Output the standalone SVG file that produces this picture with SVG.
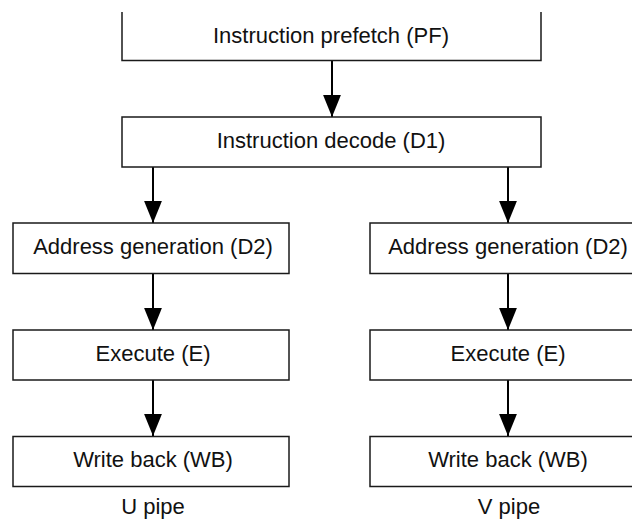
<svg xmlns="http://www.w3.org/2000/svg" width="632" height="523" viewBox="0 0 632 523">
<style>
.box{fill:#fff;stroke:#1a1a1a;stroke-width:1.5}
.t{font-family:"Liberation Sans",Arial,sans-serif;font-size:22px;fill:#111;text-anchor:middle}
.c{stroke:#000;stroke-width:2;fill:none;marker-end:url(#ah)}
</style>
<defs>
<marker id="ah" markerUnits="userSpaceOnUse" markerWidth="22" markerHeight="18" viewBox="0 0 21 17" refX="21" refY="8.5" orient="auto">
<path d="M0,0 L21,8.5 L0,17 z" fill="#000"/>
</marker>
</defs>
<rect width="632" height="523" fill="#fff"/>
<g id="connectors">
<line class="c" x1="332" y1="61" x2="332" y2="117"/>
<line class="c" x1="153" y1="167" x2="153" y2="223"/>
<line class="c" x1="508" y1="167" x2="508" y2="223"/>
<line class="c" x1="153" y1="274" x2="153" y2="330"/>
<line class="c" x1="508" y1="274" x2="508" y2="330"/>
<line class="c" x1="153" y1="380" x2="153" y2="436"/>
<line class="c" x1="508" y1="380" x2="508" y2="436"/>
</g>
<g id="pf">
<path class="box" d="M122,12 V60.5 H541 V12"/>
<text class="t" x="331" y="43">Instruction prefetch (PF)</text>
</g>
<g id="d1">
<rect class="box" x="122" y="117" width="419" height="50"/>
<text class="t" x="331" y="148">Instruction decode (D1)</text>
</g>
<g id="u-d2">
<rect class="box" x="13" y="223" width="276" height="50.5"/>
<text class="t" x="153" y="254">Address generation (D2)</text>
</g>
<g id="v-d2">
<rect class="box" x="370" y="223" width="276" height="50.5"/>
<text class="t" x="508" y="254">Address generation (D2)</text>
</g>
<g id="u-e">
<rect class="box" x="13" y="330" width="276" height="50"/>
<text class="t" x="153" y="361">Execute (E)</text>
</g>
<g id="v-e">
<rect class="box" x="370" y="330" width="276" height="50"/>
<text class="t" x="508" y="361">Execute (E)</text>
</g>
<g id="u-wb">
<rect class="box" x="13" y="436.5" width="276" height="50"/>
<text class="t" x="153" y="467">Write back (WB)</text>
</g>
<g id="v-wb">
<rect class="box" x="370" y="436.5" width="276" height="50"/>
<text class="t" x="508" y="467">Write back (WB)</text>
</g>
<g id="labels">
<text class="t" x="153" y="514">U pipe</text>
<text class="t" x="509" y="514">V pipe</text>
</g>
</svg>
